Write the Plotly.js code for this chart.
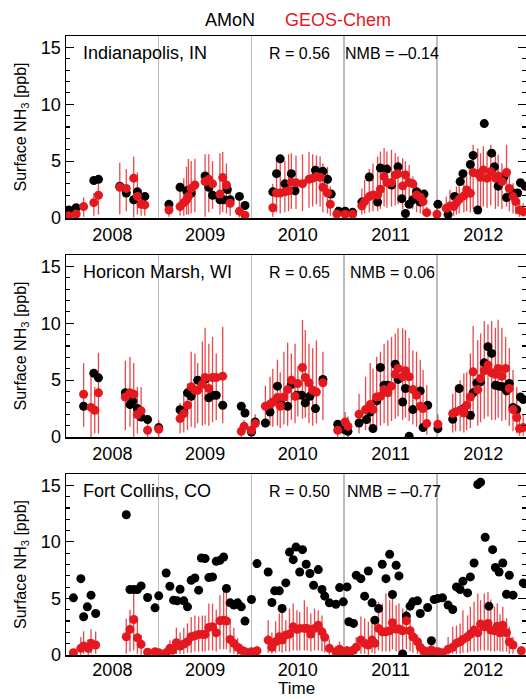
<!DOCTYPE html>
<html>
<head>
<meta charset="utf-8">
<script src="https://cdn.plot.ly/plotly-3.0.1.min.js"></script>
<style>
  html, body { margin: 0; padding: 0; background: #fff; overflow: hidden; }
  #chart { width: 526px; height: 699px; }
</style>
</head>
<body>
<div id="chart"></div>
<script>
// ---------- labels ----------
const yearLabels = ['2008', '2009', '2010', '2011', '2012'];
const yearBreaks = [2009, 2010, 2011, 2012];
const siteNames = ['Indianapolis, IN', 'Horicon Marsh, WI', 'Fort Collins, CO'];
const rValues = ['0.56', '0.65', '0.50'];
const nmbValues = ['\u20130.14', '0.06', '\u20130.77'];
const seriesNames = ['AMoN', 'GEOS-Chem'];
const xTitle = 'Time';
const yTitle = 'Surface NH<sub>3</sub> [ppb]';

// ---------- Indianapolis, IN ----------
const indyAmonT = [2008.03, 2008.11, 2008.30, 2008.35, 2008.58, 2008.65, 2008.73, 2008.77, 2008.85,
  2009.11, 2009.23, 2009.30, 2009.35, 2009.50, 2009.54, 2009.58, 2009.66, 2009.70, 2009.74, 2009.77, 2009.87, 2009.93,
  2010.23, 2010.27, 2010.31, 2010.36, 2010.43, 2010.47, 2010.69, 2010.77, 2010.82, 2010.86, 2010.94, 2011.01, 2011.09,
  2011.19, 2011.27, 2011.36, 2011.39, 2011.46, 2011.51, 2011.58, 2011.62, 2011.66, 2011.70, 2011.74, 2011.78, 2011.82, 2011.86, 2012.01,
  2012.12, 2012.19, 2012.25, 2012.28, 2012.36, 2012.39, 2012.44, 2012.51, 2012.59, 2012.62, 2012.66, 2012.72, 2012.75, 2012.82, 2012.87, 2012.90, 2012.95];
const indyAmonV = [0.7, 0.9, 3.3, 3.4, 2.8, 2.2, 1.6, 2.3, 1.9,
  1.2, 2.7, 2.4, 2.2, 3.7, 2.7, 2.0, 1.6, 1.6, 2.5, 1.6, 1.9, 1.1,
  2.3, 3.9, 5.2, 3.0, 3.9, 2.4, 4.2, 4.1, 3.4, 2.1, 0.6, 0.6, 0.5,
  1.4, 3.6, 1.4, 4.4, 4.3, 2.9, 4.5, 1.7, 0.4, 1.2, 1.6, 2.3, 1.4, 2.1, 1.2,
  0.3, 1.9, 3.2, 3.9, 4.7, 5.5, 0.7, 8.3, 5.7, 4.5, 2.8, 3.6, 1.8, 2.2, 2.2, 3.1, 2.8];
const indyGcT = [2008.03, 2008.11, 2008.19, 2008.30, 2008.35, 2008.58, 2008.65, 2008.73, 2008.77, 2008.81, 2008.85,
  2009.11, 2009.23, 2009.27, 2009.30, 2009.32, 2009.35, 2009.39, 2009.50, 2009.54, 2009.58, 2009.66, 2009.69, 2009.73, 2009.77, 2009.87, 2009.93,
  2010.23, 2010.27, 2010.31, 2010.36, 2010.40, 2010.43, 2010.48, 2010.55, 2010.62, 2010.66, 2010.70, 2010.74, 2010.77, 2010.82, 2010.85, 2010.92, 2011.01, 2011.09,
  2011.19, 2011.22, 2011.27, 2011.31, 2011.36, 2011.39, 2011.43, 2011.46, 2011.51, 2011.55, 2011.58, 2011.63, 2011.66, 2011.70, 2011.74, 2011.78, 2011.82, 2011.85, 2011.89, 2012.00,
  2012.10, 2012.14, 2012.18, 2012.21, 2012.24, 2012.29, 2012.32, 2012.36, 2012.39, 2012.44, 2012.47, 2012.50, 2012.54, 2012.58, 2012.63, 2012.66, 2012.70, 2012.75, 2012.78, 2012.82, 2012.85, 2012.89, 2012.93];
const indyGcV = [0.2, 0.35, 1.0, 1.35, 2.0, 2.7, 2.6, 3.5, 1.9, 1.2, 1.15,
  0.7, 1.0, 1.35, 1.6, 1.9, 2.6, 2.9, 3.2, 3.4, 3.0, 2.1, 3.55, 2.9, 1.3, 0.6, 0.25,
  0.9, 2.2, 2.2, 2.3, 2.4, 3.15, 3.1, 3.0, 3.4, 3.5, 3.64, 3.58, 2.7, 2.2, 1.2, 0.35, 0.33, 0.33,
  1.06, 1.44, 1.88, 2.03, 2.03, 2.53, 3.64, 3.11, 3.11, 3.79, 3.88, 2.82, 3.79, 3.11, 3.0, 2.03, 1.82, 1.44, 0.47, 0.33,
  0.85, 1.06, 1.0, 1.35, 1.64, 1.94, 2.47, 2.17, 4.0, 3.88, 3.58, 4.23, 3.5, 4.08, 3.5, 3.7, 3.2, 4.0, 2.6, 1.88, 1.44, 0.7, 0.56];
const indyGcHi = [0.5, 0.7, 1.8, 2.2, 3.2, 4.85, 4.3, 5.4, 4.0, 2.5, 2.2,
  1.3, 2.8, 3.5, 4.5, 5.2, 5.0, 5.2, 5.6, 5.6, 5.0, 5.7, 5.8, 4.8, 3.0, 1.5, 0.6,
  3.0, 5.3, 5.5, 5.0, 5.6, 5.7, 5.5, 5.6, 5.8, 5.6, 5.5, 5.4, 4.8, 4.5, 2.8, 1.0, 0.8, 0.7,
  2.6, 3.35, 4.3, 4.8, 5.4, 5.85, 6.15, 5.85, 6.0, 5.7, 5.4, 5.26, 4.97, 4.67, 3.64, 3.05, 2.6, 2.03, 1.0, 0.8,
  1.88, 2.47, 2.17, 2.76, 3.05, 3.94, 3.64, 4.82, 6.43, 6.14, 5.7, 6.3, 5.85, 6.43, 5.55, 5.55, 4.82, 6.43, 4.23, 3.05, 2.47, 1.59, 1.3];
const indyGcLo = [0.05, 0.1, 0.1, 0.2, 0.3, 0.3, 0.6, 0.05, 0.3, 0.2, 0.2,
  0.1, 0.2, 0.2, 0.3, 0.3, 0.4, 0.5, 0.1, 0.5, 0.8, 0.3, 0.5, 0.4, 0.2, 0.05, 0.0,
  0.1, 0.5, 0.4, 0.5, 0.6, 0.8, 0.8, 0.6, 0.9, 1.0, 1.2, 1.0, 0.5, 0.4, 0.2, 0.0, 0.0, 0.0,
  0.3, 0.4, 0.5, 0.6, 0.6, 0.8, 1.0, 0.9, 1.0, 1.1, 1.2, 0.8, 1.0, 0.9, 0.8, 0.5, 0.4, 0.3, 0.1, 0.0,
  0.1, 0.2, 0.2, 0.3, 0.4, 0.5, 0.6, 0.5, 0.8, 1.0, 0.9, 1.0, 0.9, 1.1, 0.8, 1.0, 0.8, 1.0, 0.6, 0.4, 0.3, 0.1, 0.1];

// ---------- Horicon Marsh, WI ----------
const horiAmonT = [2008.19, 2008.30, 2008.35, 2008.64, 2008.69, 2008.72, 2008.77, 2008.81, 2008.88, 2009.00,
  2009.23, 2009.27, 2009.31, 2009.35, 2009.42, 2009.50, 2009.54, 2009.58, 2009.62, 2009.69, 2009.89, 2009.93, 2010.00, 2010.04,
  2010.15, 2010.20, 2010.28, 2010.31, 2010.39, 2010.43, 2010.49, 2010.54, 2010.58, 2010.63, 2010.69, 2010.77, 2010.93, 2011.00, 2011.04,
  2011.16, 2011.24, 2011.28, 2011.31, 2011.35, 2011.39, 2011.43, 2011.47, 2011.55, 2011.58, 2011.63, 2011.66, 2011.70, 2011.74, 2011.82, 2011.85, 2011.90, 2012.01,
  2012.17, 2012.24, 2012.29, 2012.36, 2012.39, 2012.43, 2012.47, 2012.51, 2012.55, 2012.59, 2012.63, 2012.67, 2012.71, 2012.75, 2012.78, 2012.82, 2012.86, 2012.90, 2012.93];
const horiAmonV = [2.7, 5.6, 5.2, 3.9, 2.85, 3.15, 2.5, 1.76, 1.53, 0.83,
  2.4, 2.15, 3.88, 3.58, 5.0, 5.06, 3.44, 3.67, 3.67, 2.79, 2.7, 2.11, 0.44, 1.32,
  1.23, 2.2, 4.47, 3.15, 2.7, 4.61, 3.67, 3.67, 3.0, 3.58, 2.5, 5.06, 1.12, 0.65, 0.5,
  1.23, 1.53, 2.2, 0.74, 3.17, 6.11, 4.55, 4.55, 6.4, 5.06, 3.08, 4.26, 0.06, 2.41, 4.05, 0.83, 2.79, 0.74,
  1.56, 4.26, 2.5, 1.91, 3.88, 4.76, 4.85, 6.52, 7.93, 7.35, 4.55, 4.47, 4.41, 4.05, 4.7, 2.59, 2.41, 3.52, 3.3];
const horiGcT = [2008.19, 2008.27, 2008.31, 2008.35, 2008.64, 2008.69, 2008.73, 2008.77, 2008.81, 2008.88, 2009.00,
  2009.23, 2009.27, 2009.31, 2009.35, 2009.39, 2009.42, 2009.47, 2009.50, 2009.54, 2009.58, 2009.62, 2009.69, 2009.89, 2009.92, 2010.00, 2010.04,
  2010.15, 2010.20, 2010.23, 2010.28, 2010.31, 2010.35, 2010.39, 2010.43, 2010.47, 2010.50, 2010.55, 2010.58, 2010.62, 2010.66, 2010.70, 2010.77, 2010.93, 2011.01, 2011.04,
  2011.16, 2011.23, 2011.28, 2011.31, 2011.35, 2011.39, 2011.43, 2011.47, 2011.51, 2011.55, 2011.58, 2011.63, 2011.66, 2011.70, 2011.74, 2011.78, 2011.82, 2011.85, 2011.89, 2012.01,
  2012.17, 2012.20, 2012.25, 2012.29, 2012.32, 2012.36, 2012.39, 2012.44, 2012.47, 2012.51, 2012.55, 2012.59, 2012.63, 2012.66, 2012.70, 2012.74, 2012.78, 2012.82, 2012.86, 2012.89, 2012.93];
const horiGcV = [3.76, 2.6, 2.35, 3.88, 3.52, 3.88, 3.76, 1.97, 2.3, 0.59, 0.68,
  1.62, 2.06, 2.79, 4.41, 4.11, 4.11, 4.64, 5.23, 4.26, 5.23, 5.23, 5.35, 0.5, 0.94, 0.59, 1.18,
  2.7, 2.88, 3.08, 3.47, 2.7, 3.52, 4.17, 5.0, 3.58, 4.7, 6.11, 5.23, 4.76, 4.11, 3.96, 4.76, 0.59, 1.32, 0.94,
  2.0, 2.41, 2.85, 2.41, 3.52, 3.58, 4.17, 3.88, 4.47, 5.52, 6.03, 5.29, 5.82, 5.29, 4.17, 3.67, 2.7, 2.5, 1.18, 1.12,
  2.06, 2.2, 2.35, 2.11, 2.79, 3.52, 5.73, 4.17, 5.14, 5.82, 6.32, 5.64, 5.52, 6.03, 5.35, 6.03, 4.26, 2.41, 1.71, 0.74, 0.83];
const horiGcHi = [6.5, 5.4, 4.4, 7.4, 6.7, 7.05, 6.5, 4.4, 4.4, 1.5, 1.47,
  3.0, 4.0, 4.7, 7.5, 7.35, 6.5, 8.4, 9.6, 8.2, 8.8, 7.35, 9.7, 1.0, 1.5, 1.2, 2.0,
  4.5, 5.3, 6.0, 6.8, 5.7, 7.5, 8.3, 7.35, 8.2, 6.2, 10.3, 9.4, 8.2, 7.8, 8.5, 7.5, 1.4, 2.2, 1.8,
  3.8, 5.3, 6.5, 6.0, 7.05, 7.5, 8.2, 8.5, 8.8, 9.1, 9.55, 9.55, 9.4, 8.7, 7.6, 7.5, 6.8, 5.9, 4.55, 2.0,
  3.8, 4.4, 5.0, 5.6, 5.7, 7.35, 9.75, 8.5, 9.1, 10.2, 9.9, 10.2, 9.6, 10.3, 9.6, 8.8, 7.8, 5.9, 4.4, 2.6, 2.0];
const horiGcLo = [0.9, 0.0, 0.3, 0.3, 0.6, 0.9, 0.0, 0.3, 1.4, 0.0, 0.0,
  0.3, 0.4, 0.6, 0.9, 0.8, 1.2, 1.0, 1.1, 1.0, 1.3, 1.5, 1.2, 0.0, 0.3, 0.0, 0.4,
  0.8, 1.0, 0.9, 1.0, 0.8, 1.1, 1.0, 1.5, 1.2, 1.8, 1.6, 1.7, 1.2, 1.0, 1.2, 1.5, 0.0, 0.3, 0.0,
  0.3, 0.6, 0.8, 0.6, 0.9, 1.0, 1.2, 1.0, 1.4, 1.6, 1.8, 1.5, 1.7, 1.4, 1.1, 0.9, 0.6, 0.5, 0.2, 0.3,
  0.4, 0.5, 0.5, 0.4, 0.6, 0.8, 1.5, 1.0, 1.3, 1.6, 1.8, 1.5, 1.5, 1.7, 1.4, 1.5, 1.0, 0.5, 0.3, 0.1, 0.1];

// ---------- Fort Collins, CO ----------
const fortAmonT = [2008.08, 2008.16, 2008.19, 2008.23, 2008.27, 2008.32, 2008.65, 2008.69, 2008.73, 2008.77, 2008.81, 2008.88, 2008.96, 2009.00,
  2009.08, 2009.12, 2009.16, 2009.20, 2009.23, 2009.27, 2009.31, 2009.35, 2009.39, 2009.43, 2009.46, 2009.50, 2009.54, 2009.58, 2009.62, 2009.66, 2009.70, 2009.73, 2009.77, 2009.81, 2009.85, 2009.89, 2009.93, 2010.00,
  2010.06, 2010.18, 2010.22, 2010.25, 2010.30, 2010.33, 2010.37, 2010.41, 2010.45, 2010.48, 2010.52, 2010.55, 2010.59, 2010.63, 2010.67, 2010.72, 2010.76, 2010.79, 2010.84, 2010.91, 2010.95, 2010.99, 2011.03, 2011.05, 2011.10,
  2011.13, 2011.18, 2011.22, 2011.26, 2011.30, 2011.33, 2011.37, 2011.41, 2011.45, 2011.49, 2011.52, 2011.56, 2011.59, 2011.63, 2011.67, 2011.71, 2011.74, 2011.79, 2011.82, 2011.90, 2011.94, 2011.97, 2012.01, 2012.06,
  2012.12, 2012.17, 2012.21, 2012.25, 2012.28, 2012.33, 2012.36, 2012.40, 2012.44, 2012.47, 2012.52, 2012.56, 2012.60, 2012.63, 2012.67, 2012.71, 2012.75, 2012.78, 2012.82, 2012.93];
const fortAmonV = [5.05, 6.75, 3.38, 4.26, 5.29, 3.67, 12.4, 5.79, 5.79, 5.79, 6.11, 5.08, 4.17, 5.23,
  7.25, 6.08, 4.85, 4.79, 5.81, 4.79, 4.26, 6.61, 6.81, 5.73, 8.57, 8.52, 6.84, 6.9, 8.28, 8.37, 8.66, 5.88, 4.61, 4.41, 4.61, 4.26, 3.0, 4.91,
  8.08, 7.34, 4.64, 5.67, 5.67, 4.11, 6.37, 9.1, 8.43, 9.54, 7.34, 9.31, 8.02, 7.2, 6.17, 7.55, 5.79, 5.2, 4.61, 4.49, 5.96, 4.7, 6.02, 2.94, 2.79,
  7.05, 6.75, 5.2, 7.43, 4.61, 3.08, 4.11, 8.02, 6.75, 8.9, 5.35, 7.93, 6.99, 0.09, 3.44, 4.32, 4.7, 4.79, 3.67, 4.2, 1.26, 4.91, 5.0, 5.05,
  4.41, 4.02, 6.02, 5.79, 6.52, 5.49, 6.9, 8.13, 15.07, 15.27, 10.4, 4.32, 9.31, 7.73, 7.34, 8.13, 5.37, 7.05, 5.29, 6.37];
const fortGcT = [2008.08, 2008.16, 2008.19, 2008.24, 2008.27, 2008.32, 2008.65, 2008.69, 2008.73, 2008.77, 2008.81, 2008.88, 2008.96, 2009.00,
  2009.08, 2009.12, 2009.15, 2009.19, 2009.23, 2009.27, 2009.31, 2009.35, 2009.39, 2009.43, 2009.47, 2009.50, 2009.54, 2009.58, 2009.62, 2009.66, 2009.70, 2009.73, 2009.77, 2009.81, 2009.85, 2009.89, 2009.93,
  2010.00, 2010.06, 2010.18, 2010.22, 2010.26, 2010.30, 2010.33, 2010.37, 2010.41, 2010.45, 2010.49, 2010.52, 2010.57, 2010.60, 2010.64, 2010.68, 2010.72, 2010.76, 2010.79, 2010.84, 2010.91, 2010.95, 2010.99, 2011.03, 2011.06, 2011.10, 2011.13,
  2011.18, 2011.22, 2011.26, 2011.30, 2011.33, 2011.37, 2011.41, 2011.45, 2011.49, 2011.52, 2011.56, 2011.59, 2011.63, 2011.67, 2011.71, 2011.74, 2011.79, 2011.82, 2011.86, 2011.90, 2011.94, 2011.98, 2012.01, 2012.06,
  2012.12, 2012.17, 2012.21, 2012.25, 2012.28, 2012.33, 2012.36, 2012.40, 2012.44, 2012.47, 2012.51, 2012.55, 2012.58, 2012.62, 2012.65, 2012.68, 2012.71, 2012.75, 2012.78, 2012.82, 2012.91];
const fortGcV = [0.2, 0.59, 0.79, 0.59, 1.03, 0.88, 1.61, 2.26, 3.14, 1.52, 0.94, 0.24, 0.29, 0.2,
  0.2, 0.59, 0.44, 1.08, 0.79, 0.97, 1.17, 1.61, 1.7, 1.82, 1.82, 1.82, 2.44, 2.5, 1.97, 3.02, 3.08, 3.0, 1.38, 1.03, 0.68, 0.44, 0.29,
  0.29, 0.38, 1.32, 0.68, 1.17, 1.61, 1.32, 1.76, 1.85, 2.49, 2.26, 2.35, 2.35, 2.35, 1.85, 2.35, 2.64, 2.05, 1.56, 0.59, 0.29, 0.5, 0.29, 0.38, 0.29, 0.44, 0.68,
  1.32, 1.03, 0.88, 1.32, 1.03, 2.35, 2.05, 2.05, 2.14, 2.85, 2.29, 2.29, 2.14, 3.02, 2.14, 1.61, 1.17, 0.68, 0.38, 0.29, 0.44, 0.29, 0.29, 0.2,
  0.5, 0.68, 1.03, 1.17, 1.38, 1.61, 1.85, 2.2, 1.97, 2.73, 2.49, 2.79, 2.2, 2.14, 2.55, 1.97, 2.64, 1.97, 1.17, 0.88, 0.38];
const fortGcHi = [0.5, 1.6, 2.1, 1.4, 2.27, 2.07, 3.2, 4.0, 5.6, 3.08, 1.8, 0.5, 0.5, 0.4,
  0.5, 1.3, 1.2, 2.43, 2.0, 2.4, 2.8, 3.37, 3.5, 3.4, 3.5, 3.5, 4.55, 4.55, 4.0, 5.29, 5.79, 5.58, 3.2, 2.4, 1.5, 1.0, 0.7,
  0.6, 0.8, 3.08, 2.0, 2.97, 3.67, 3.96, 3.08, 4.11, 4.55, 3.96, 3.8, 4.85, 4.26, 3.67, 4.11, 3.96, 3.5, 2.2, 1.4, 0.8, 1.2, 0.7, 0.8, 0.6, 1.0, 1.6,
  3.4, 3.25, 2.95, 3.1, 3.4, 4.7, 4.55, 5.43, 4.85, 5.0, 4.4, 4.55, 4.11, 4.0, 3.25, 2.2, 1.8, 1.2, 0.8, 0.6, 0.9, 0.6, 0.6, 0.4,
  1.6, 2.5, 2.6, 2.79, 3.96, 3.5, 4.26, 4.7, 5.43, 4.85, 5.43, 5.58, 4.9, 4.26, 4.55, 3.6, 4.26, 3.25, 2.5, 1.6, 0.8];
const fortGcLo = [0.0, 0.0, 0.1, 0.0, 0.1, 0.1, 0.1, 0.3, 0.4, 0.1, 0.0, 0.0, 0.0, 0.0,
  0.0, 0.0, 0.0, 0.1, 0.1, 0.1, 0.2, 0.2, 0.3, 0.3, 0.3, 0.3, 0.4, 0.4, 0.3, 0.5, 0.5, 0.5, 0.2, 0.1, 0.0, 0.0, 0.0,
  0.0, 0.0, 0.2, 0.1, 0.2, 0.3, 0.2, 0.3, 0.3, 0.4, 0.4, 0.4, 0.4, 0.4, 0.3, 0.4, 0.4, 0.3, 0.2, 0.0, 0.0, 0.0, 0.0, 0.0, 0.0, 0.0, 0.1,
  0.1, 0.1, 0.0, 0.2, 0.1, 0.4, 0.3, 0.3, 0.3, 0.5, 0.3, 0.3, 0.3, 0.5, 0.3, 0.2, 0.1, 0.0, 0.0, 0.0, 0.0, 0.0, 0.0, 0.0,
  0.0, 0.1, 0.1, 0.1, 0.2, 0.2, 0.3, 0.3, 0.3, 0.4, 0.4, 0.4, 0.3, 0.3, 0.4, 0.3, 0.3, 0.3, 0.1, 0.1, 0.0];

// ---------- build ----------
const sites = [
  { amonT: indyAmonT, amonV: indyAmonV, gcT: indyGcT, gcV: indyGcV, gcHi: indyGcHi, gcLo: indyGcLo },
  { amonT: horiAmonT, amonV: horiAmonV, gcT: horiGcT, gcV: horiGcV, gcHi: horiGcHi, gcLo: horiGcLo },
  { amonT: fortAmonT, amonV: fortAmonV, gcT: fortGcT, gcV: fortGcV, gcHi: fortGcHi, gcLo: fortGcLo }
];

const RED = '#e3191f';
const BAR = 'rgba(230,40,45,0.85)';
const FONT = 'Liberation Sans, Arial, sans-serif';

const traces = [];
sites.forEach((s, i) => {
  const xa = i === 0 ? 'x' : 'x' + (i + 1);
  const ya = i === 0 ? 'y' : 'y' + (i + 1);
  // red range bars (beneath the dots)
  traces.push({
    x: s.gcT, y: s.gcV, xaxis: xa, yaxis: ya, type: 'scatter', mode: 'markers',
    marker: { size: 1, color: 'rgba(0,0,0,0)' },
    error_y: { type: 'data', symmetric: false,
      array: s.gcHi.map((h, k) => Math.max(0, h - s.gcV[k])),
      arrayminus: s.gcLo.map((l, k) => Math.max(0, s.gcV[k] - l)),
      color: BAR, thickness: 1.3, width: 0 },
    showlegend: false, hoverinfo: 'skip'
  });
  traces.push({
    x: s.amonT, y: s.amonV, xaxis: xa, yaxis: ya, type: 'scatter', mode: 'markers',
    name: seriesNames[0], marker: { size: 9, color: '#000' }, showlegend: false
  });
  traces.push({
    x: s.gcT, y: s.gcV, xaxis: xa, yaxis: ya, type: 'scatter', mode: 'markers',
    name: seriesNames[1], marker: { size: 9, color: RED }, showlegend: false
  });
});

const H = 699, MB = 44, PH = H - MB;
function dom(topPx, botPx) { return [(PH - botPx) / PH, (PH - topPx) / PH]; }
const panelPx = [[36, 218], [255, 437], [474, 655]];

const layout = {
  width: 526, height: 699,
  margin: { l: 66, r: 0, t: 0, b: MB, pad: 0 },
  paper_bgcolor: '#fff', plot_bgcolor: '#fff',
  font: { family: FONT, color: '#000', size: 18 },
  showlegend: false,
  annotations: []
};

const yearMid = yearLabels.map(y => Number(y) + 0.5);
panelPx.forEach((p, i) => {
  const sfx = i === 0 ? '' : String(i + 1);
  layout['xaxis' + sfx] = {
    domain: [0, 1], range: [2008, 2012.96], anchor: 'y' + sfx,
    tickmode: 'array', tickvals: yearMid, ticktext: yearLabels,
    ticks: '', showgrid: false, zeroline: false,
    showline: true, mirror: true, linecolor: '#000', linewidth: 1.5,
    tickfont: { size: 18, family: FONT, color: '#000' },
    ticklabelstandoff: i === 2 ? -2 : 0,
    minor: { tickmode: 'array', tickvals: yearBreaks, showgrid: true, gridcolor: '#bdbdbd', gridwidth: 1.5, ticks: '' },
    fixedrange: true
  };
  layout['yaxis' + sfx] = {
    domain: dom(p[0], p[1]), range: [0, 16], anchor: 'x' + sfx,
    tickmode: 'array', tickvals: [0, 5, 10, 15],
    ticks: 'inside', ticklen: 8, tickwidth: 1.2, tickcolor: '#000',
    minor: { tickmode: 'linear', tick0: 0, dtick: 1, ticks: 'inside', ticklen: 4, tickwidth: 1.2, tickcolor: '#000', showgrid: false },
    showgrid: false, zeroline: false,
    showline: true, mirror: 'ticks', linecolor: '#000', linewidth: 1.5,
    tickfont: { size: 18, family: FONT, color: '#000' },
    title: { text: yTitle, font: { size: 16, family: FONT }, standoff: 10 },
    fixedrange: true
  };
  const nmbX = [0.6065, 0.617, 0.611][i];
  layout.annotations.push(
    { xref: 'x' + sfx + ' domain', yref: 'y' + sfx + ' domain', x: 0.033, y: 0.905, xanchor: 'left', yanchor: 'middle',
      text: siteNames[i], showarrow: false, font: { size: 18, family: FONT } },
    { xref: 'x' + sfx + ' domain', yref: 'y' + sfx + ' domain', x: 0.436, y: 0.905, xanchor: 'left', yanchor: 'middle',
      text: 'R = ' + rValues[i], showarrow: false, font: { size: 16, family: FONT } },
    { xref: 'x' + sfx + ' domain', yref: 'y' + sfx + ' domain', x: nmbX - 0.004, y: 0.905, xanchor: 'left', yanchor: 'middle',
      text: 'NMB = ' + nmbValues[i], showarrow: false, font: { size: 16, family: FONT } }
  );
});

layout.annotations.push(
  { xref: 'paper', yref: 'paper', x: (230 - 66) / 460, y: (PH - 20) / PH, xanchor: 'center', yanchor: 'middle',
    text: seriesNames[0], showarrow: false, font: { size: 18, family: FONT, color: '#000' } },
  { xref: 'paper', yref: 'paper', x: (338 - 66) / 460, y: (PH - 20) / PH, xanchor: 'center', yanchor: 'middle',
    text: seriesNames[1], showarrow: false, font: { size: 18, family: FONT, color: RED } },
  // x-axis title of the bottom panel
  { xref: 'x3 domain', yref: 'paper', x: 0.502, y: -MB / PH, xanchor: 'center', yanchor: 'bottom',
    borderpad: 0, text: xTitle, showarrow: false, font: { size: 17, family: FONT, color: '#000' } }
);

Plotly.newPlot('chart', traces, layout, { displayModeBar: false, staticPlot: true });
</script>
</body>
</html>
